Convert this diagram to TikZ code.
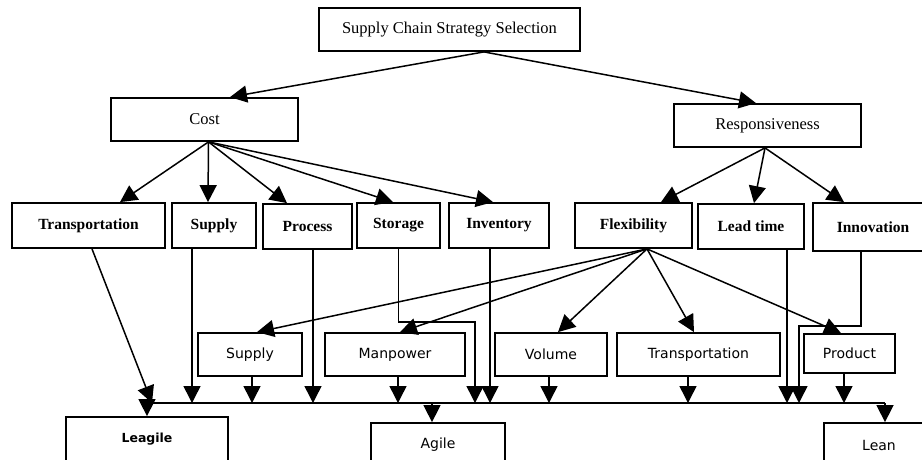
\documentclass[tikz,border=0pt]{standalone}
\usepackage{fontspec}
\setmainfont{Liberation Serif}
\newfontfamily\boxsans{DejaVu Sans}
\usetikzlibrary{arrows.meta}

\begin{document}
\begin{tikzpicture}[x=1pt,y=-1pt,
    box/.style={draw,line width=1.8pt,inner sep=0pt,minimum height=43pt},
    plaintext/.style={font=\fontsize{16.5}{18}\selectfont},
    boldtext/.style={font=\fontsize{15.5}{18}\selectfont\bfseries},
    sanstext/.style={font=\boxsans\fontsize{14}{16}\selectfont},
    arr/.style={line width=1.5pt,-{Triangle[length=17pt,width=17pt]}}]
    \useasboundingbox (0,0) rectangle (922,459);
    \clip (0,0) rectangle (922,459);
    % top levels
    \node[box,plaintext,minimum width=261pt] (top) at (449.5,29.5) {Supply Chain Strategy Selection};
    \node[box,plaintext,minimum width=187pt] (cost) at (204.5,119.5) {Cost};
    \node[box,plaintext,minimum width=187pt] (resp) at (767.5,125.5) {Responsiveness};
    %
    \node[box,boldtext,minimum width=153pt,minimum height=45pt] (trans) at (88.5,225.5) {Transportation};
    \node[box,boldtext,minimum width=84pt,minimum height=45pt] (supply) at (214,225.5) {Supply};
    \node[box,boldtext,minimum width=89pt,minimum height=45pt] (process) at (307.5,226.5) {Process};
    \node[box,boldtext,minimum width=83pt,minimum height=45pt] (storage) at (398.5,225.5) {Storage};
    \node[box,boldtext,minimum width=100pt,minimum height=45pt] (inventory) at (499,225.5) {Inventory};
    \node[box,boldtext,minimum width=117pt,minimum height=45pt] (flex) at (633.5,225.5) {Flexibility};
    \node[box,boldtext,minimum width=106pt,minimum height=45pt] (lead) at (751,226.5) {Lead time};
    \node[box,boldtext,minimum width=120pt,minimum height=48pt] (innov) at (873,227) {Innovation};
    %
    \node[box,sanstext,minimum width=104pt] (supB) at (250,354.5) {Supply};
    \node[box,sanstext,minimum width=140pt] (manp) at (395,354.5) {Manpower};
    \node[box,sanstext,minimum width=112pt] (vol) at (551,354.5) {Volume};
    \node[box,sanstext,minimum width=163pt] (transB) at (698.5,354.5) {Transportation};
    \node[box,sanstext,minimum width=91pt,minimum height=39pt] (prod) at (849.5,353.5) {Product};
    %
    \node[box,sanstext,font=\boxsans\bfseries\fontsize{12.5}{14}\selectfont,minimum width=162pt,minimum height=44pt] (leagile) at (147,439) {Leagile};
    \node[box,sanstext,minimum width=134pt,minimum height=44pt] (agile) at (438,445) {Agile};
    \node[box,sanstext,minimum width=110pt,minimum height=44pt] (lean) at (879,445) {Lean};
    % bus
    \coordinate (busL) at (147,403);
    \coordinate (busR) at (885,403);
    \coordinate (busA) at (432,403);
    \coordinate (stoTurn) at (475,322);
    \coordinate (innTurn) at (799,326);
    \draw[line width=1.5pt] (busL) -- (busR);
    % arrows down the tree
    \draw[arr] ([xshift=34.5]top.south) -- ([xshift=25.5]cost.north);
    \draw[arr] ([xshift=34.5]top.south) -- ([xshift=-11.5]resp.north);
    \draw[arr] ([xshift=4]cost.south) -- ([xshift=31.5]trans.north);
    \draw[arr] ([xshift=4]cost.south) -- ([xshift=-6]supply.north);
    \draw[arr] ([xshift=4]cost.south) -- ([xshift=-20.5]process.north);
    \draw[arr] ([xshift=4]cost.south) -- ([xshift=-5.5]storage.north);
    \draw[arr] ([xshift=4]cost.south) -- ([xshift=-6]inventory.north);
    \draw[arr] ([xshift=-2.5]resp.south) -- ([xshift=27.5]flex.north);
    \draw[arr] ([xshift=-2.5]resp.south) -- ([xshift=3]lead.north);
    \draw[arr] ([xshift=-2.5]resp.south) -- ([xshift=-29]innov.north);
    \draw[arr] ([xshift=13.5]flex.south) -- ([xshift=7]supB.north);
    \draw[arr] ([xshift=13.5]flex.south) -- ([xshift=5]manp.north);
    \draw[arr] ([xshift=13.5]flex.south) -- ([xshift=7]vol.north);
    \draw[arr] ([xshift=13.5]flex.south) -- ([xshift=-4.5]transB.north);
    \draw[arr] ([xshift=13.5]flex.south) -- ([xshift=-8.5]prod.north);
    % into the bus
    \draw[arr] ([xshift=3.5]trans.south) -- ([xshift=5]busL);
    \draw[arr] ([xshift=-22]supply.south) -- ([xshift=-22]supply.south |- busL);
    \draw[arr] ([xshift=2]supB.south) -- ([xshift=2]supB.south |- busL);
    \draw[arr] ([xshift=5.5]process.south) -- ([xshift=5.5]process.south |- busL);
    \draw[arr] ([xshift=3]manp.south) -- ([xshift=3]manp.south |- busL);
    \draw[arr] (storage.south) |- (stoTurn) -- (stoTurn |- busL);
    \draw[arr] ([xshift=-9]inventory.south) -- ([xshift=-9]inventory.south |- busL);
    \draw[arr] ([xshift=-2]vol.south) -- ([xshift=-2]vol.south |- busL);
    \draw[arr] ([xshift=-10.5]transB.south) -- ([xshift=-10.5]transB.south |- busL);
    \draw[arr] ([xshift=36]lead.south) -- ([xshift=36]lead.south |- busL);
    \draw[arr] ([xshift=-12]innov.south) |- (innTurn) -- (innTurn |- busL);
    \draw[arr] ([xshift=-5.5]prod.south) -- ([xshift=-5.5]prod.south |- busL);
    % out of the bus
    \draw[arr] (busL) -- (leagile.north);
    \draw[arr] (busA) -- (busA |- agile.north);
    \draw[arr] (busR) -- (busR |- lean.north);
  \end{tikzpicture}
\end{document}
